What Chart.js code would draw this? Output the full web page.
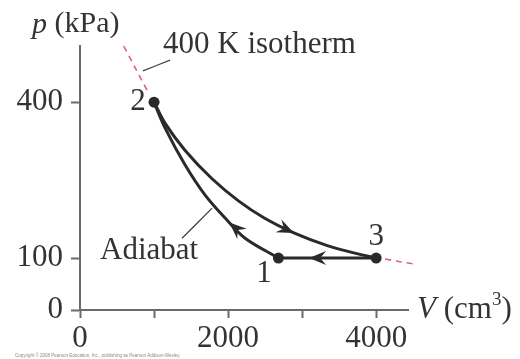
<!DOCTYPE html>
<html>
<head>
<meta charset="utf-8">
<script src="https://cdn.jsdelivr.net/npm/chart.js@4"></script>
<style>
  body { margin: 0; background: #fff; }
  canvas { display: block; }
</style>
</head>
<body>
<canvas id="pv" width="520" height="359"></canvas>
<script>
// ===== DATA =====
const xTicks = [0, 1000, 2000, 3000, 4000];
const xTickLabels = ["0", "", "2000", "", "4000"];
const yTicks = [0, 100, 400];
const yTickLabels = ["0", "100", "400"];

// isotherm 2 -> 3
const isoV = [1000, 1150, 1420, 1780, 2140, 2500, 2880, 3340, 3780, 4000];
const isoP = [400, 359, 307, 253, 210, 176, 149, 124, 107, 100];

// adiabat 1 -> 2
const adiaV = [1000, 1150, 1420, 1690, 1960, 2230, 2680];
const adiaP = [400, 350, 279, 221, 177, 138, 100];

// isobar 3 -> 1
const isobarV = [2680, 4000];
const isobarP = [100, 100];

// state points
const stateNames = ["1", "2", "3"];
const stateV = [2680, 1000, 4000];
const stateP = [100, 400, 100];
const stateLabelV = [2486, 784, 4000];
const stateLabelP = [69, 400, 140];

// dashed isotherm continuation
const dashTopV = [590, 920];
const dashTopP = [508, 419];
const dashRightV = [4120, 4525];
const dashRightP = [98, 88];

// leader lines
const isoLeaderV = [851, 1216];
const isoLeaderP = [460, 481];
const adiaLeaderV = [1378, 1784];
const adiaLeaderP = [138, 196];

// text notes
const noteText = ["400 K isotherm", "Adiabat"];
const noteV = [1121, 270];
const noteP = [511, 113];

// arrows (tip, and a point behind it on the path)
const arrowTipV = [2878, 2027, 3108];
const arrowTipP = [149, 167, 100];
const arrowFromV = [2740, 2160, 3300];
const arrowFromP = [158, 150, 100];

const copyrightText = "Copyright \u00A9 2008 Pearson Education, Inc., publishing as Pearson Addison-Wesley.";

// ===== HELPERS =====
const SERIF = '"Liberation Serif", "Times New Roman", serif';
const INK = "#2a2a2a";
const AXIS = "#6a6a6a";
const PINK = "#e0607e";

function pts(vs, ps) {
    return vs.map((v, i) => ({ x: v, y: ps[i] }));
}

function lineSet(vs, ps, color, width, dash) {
    return {
        data: pts(vs, ps),
        borderColor: color,
        borderWidth: width,
        borderDash: dash || [],
        pointRadius: 0,
        showLine: true,
        fill: false,
        clip: false,
        tension: 0.35
    };
}

// ===== ANNOTATIONS =====
const notesPlugin = {
    id: 'notes',
    afterDatasetsDraw(chart) {
        const ctx = chart.ctx;
        const xs = chart.scales.x, ys = chart.scales.y;
        const area = chart.chartArea;
        ctx.save();

        // arrows
        ctx.fillStyle = INK;
        for (let i = 0; i < arrowTipV.length; i++) {
            const tx = xs.getPixelForValue(arrowTipV[i]);
            const ty = ys.getPixelForValue(arrowTipP[i]);
            const fx = xs.getPixelForValue(arrowFromV[i]);
            const fy = ys.getPixelForValue(arrowFromP[i]);
            const a = Math.atan2(ty - fy, tx - fx);
            ctx.save();
            ctx.translate(tx, ty);
            ctx.rotate(a);
            ctx.beginPath();
            ctx.moveTo(1, 0);
            ctx.lineTo(-16, 7);
            ctx.lineTo(-10, 0);
            ctx.lineTo(-16, -7);
            ctx.closePath();
            ctx.fill();
            ctx.restore();
        }

        ctx.fillStyle = "#333";
        ctx.textBaseline = "middle";

        // state labels
        ctx.font = "31px " + SERIF;
        ctx.textAlign = "center";
        stateNames.forEach((s, i) => {
            ctx.fillText(s, xs.getPixelForValue(stateLabelV[i]), ys.getPixelForValue(stateLabelP[i]));
        });

        // notes
        ctx.textAlign = "left";
        noteText.forEach((s, i) => {
            ctx.fillText(s, xs.getPixelForValue(noteV[i]), ys.getPixelForValue(noteP[i]));
        });

        // axis titles
        let x0 = area.left - 48, y0 = area.top - 21;
        ctx.font = "italic 30px " + SERIF;
        ctx.fillText("p", x0, y0);
        x0 += ctx.measureText("p ").width;
        ctx.font = "30px " + SERIF;
        ctx.fillText("(kPa)", x0, y0 - 1);

        x0 = area.right + 9; y0 = area.bottom;
        ctx.font = "italic 31px " + SERIF;
        ctx.fillText("V", x0, y0);
        x0 += ctx.measureText("V ").width;
        ctx.font = "31px " + SERIF;
        ctx.fillText("(cm", x0, y0);
        x0 += ctx.measureText("(cm").width;
        ctx.font = "19px " + SERIF;
        ctx.fillText("3", x0, y0 - 10);
        x0 += ctx.measureText("3").width;
        ctx.font = "31px " + SERIF;
        ctx.fillText(")", x0, y0);

        // copyright
        ctx.font = "4.5px Arial, sans-serif";
        ctx.fillStyle = "#8a8a8a";
        ctx.fillText(copyrightText, 15, 356);

        ctx.restore();
    }
};

// ===== CHART =====
new Chart(document.getElementById("pv"), {
    type: 'scatter',
    data: {
        datasets: [
            lineSet(dashTopV, dashTopP, PINK, 1.6, [6, 5]),
            lineSet(dashRightV, dashRightP, PINK, 1.6, [6, 5]),
            lineSet(isoLeaderV, isoLeaderP, "#444", 1.3),
            lineSet(adiaLeaderV, adiaLeaderP, "#444", 1.3),
            lineSet(isoV, isoP, INK, 3),
            lineSet(adiaV, adiaP, INK, 3),
            lineSet(isobarV, isobarP, INK, 3),
            {
                data: pts(stateV, stateP),
                showLine: false,
                pointRadius: 5.5,
                pointBackgroundColor: INK,
                pointBorderWidth: 0,
                clip: false
            }
        ]
    },
    options: {
        responsive: false,
        animation: false,
        devicePixelRatio: 1,
        layout: { padding: { left: 0, top: 46, right: 112, bottom: 0 } },
        plugins: {
            legend: { display: false },
            tooltip: { enabled: false }
        },
        scales: {
            x: {
                type: 'linear',
                min: 0,
                max: 4430,
                afterBuildTicks: s => { s.ticks = xTicks.map(v => ({ value: v })); },
                afterFit: s => { s.height = 49; },
                grid: {
                    drawOnChartArea: false,
                    drawTicks: true,
                    tickLength: 8,
                    tickWidth: 2,
                    tickColor: AXIS
                },
                border: { display: true, color: AXIS, width: 2 },
                ticks: {
                    autoSkip: false,
                    maxRotation: 0,
                    padding: 2,
                    color: "#333",
                    font: { family: SERIF, size: 31 },
                    callback: (v, i) => xTickLabels[i]
                }
            },
            y: {
                type: 'linear',
                min: 0,
                max: 508,
                afterBuildTicks: s => { s.ticks = yTicks.map(v => ({ value: v })); },
                afterFit: s => { s.width = 80; },
                grid: {
                    drawOnChartArea: false,
                    drawTicks: true,
                    tickLength: 9,
                    tickWidth: 2,
                    tickColor: AXIS
                },
                border: { display: true, color: AXIS, width: 2 },
                ticks: {
                    autoSkip: false,
                    padding: 8,
                    color: "#333",
                    font: { family: SERIF, size: 31 },
                    callback: (v, i) => yTickLabels[i]
                }
            }
        }
    },
    plugins: [notesPlugin]
});
</script>
</body>
</html>
